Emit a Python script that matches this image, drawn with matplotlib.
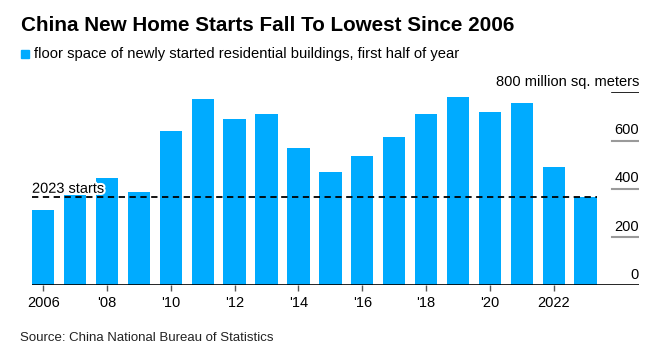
import matplotlib.pyplot as plt
import matplotlib.patheffects as pe

years = list(range(2006, 2024))
starts = [311, 374, 443, 385, 638, 771, 688, 709, 568, 470,
          535, 615, 709, 782, 717, 757, 489, 365]
level_2023 = 365
y_ticks = [0, 200, 400, 600, 800]
x_ticks = list(range(2006, 2023, 2))
x_labels = ['2006', "'08", "'10", "'12", "'14", "'16", "'18", "'20", '2022']

blue = '#00abff'
plt.rcParams['font.family'] = ['Liberation Sans', 'DejaVu Sans']

fig = plt.figure(figsize=(6.64, 3.59), dpi=100)
ax = fig.add_axes([0.0482, 0.2053, 0.914, 0.5376])

ax.bar(years, starts, width=0.7, color=blue, zorder=2)
ax.set_xlim(2006 - 0.35, 2024.67)
ax.set_ylim(0, 800)

# short gridlines under the right-hand labels
for v in y_ticks:
    if v == 0:
        ax.axhline(0, color='black', lw=1.2, zorder=3)
    elif v == 800:
        ax.axhline(v, xmin=0.955, xmax=1, color='black', lw=1.2, zorder=1)
    else:
        ax.axhline(v, xmin=0.955, xmax=1, color='#9a9a9a', lw=1.5, zorder=1)
    if v == 800:
        continue
    ax.text(1, v + 14, str(v), transform=ax.get_yaxis_transform(),
            ha='right', va='bottom', fontsize=10.5, color='black')
ax.text(1, 800 + 14, '800 million sq. meters', transform=ax.get_yaxis_transform(),
        ha='right', va='bottom', fontsize=10.5, color='black')

# 2023 level
ax.hlines(level_2023, 2006 - 0.35, 2023 + 0.35, colors='black', lw=1.3,
          linestyles=(0, (3.5, 2.5)), zorder=4)
ax.text(2006 - 0.35, level_2023 + 6, '2023 starts', ha='left', va='bottom',
        fontsize=10.5, zorder=5,
        path_effects=[pe.withStroke(linewidth=3, foreground='white')])

ax.set_yticks([])
ax.set_xticks(x_ticks)
ax.set_xticklabels(x_labels, fontsize=10.5)
ax.tick_params(axis='x', length=4, width=1, color='#555555', pad=4)
for s in ax.spines.values():
    s.set_visible(False)

fig.text(0.032, 0.928, 'China New Home Starts Fall To Lowest Since 2006',
         fontsize=14.9, fontweight='bold', va='center', ha='left')
fig.patches.append(plt.Rectangle((0.031, 0.838), 0.012, 0.022, color=blue,
                                 transform=fig.transFigure, figure=fig))
fig.text(0.051, 0.849, 'floor space of newly started residential buildings, first half of year',
         fontsize=10.6, va='center', ha='left')
fig.text(0.03, 0.058, 'Source: China National Bureau of Statistics',
         fontsize=9.5, va='center', ha='left', color='#222222')

fig.savefig('out.png', dpi=100)
